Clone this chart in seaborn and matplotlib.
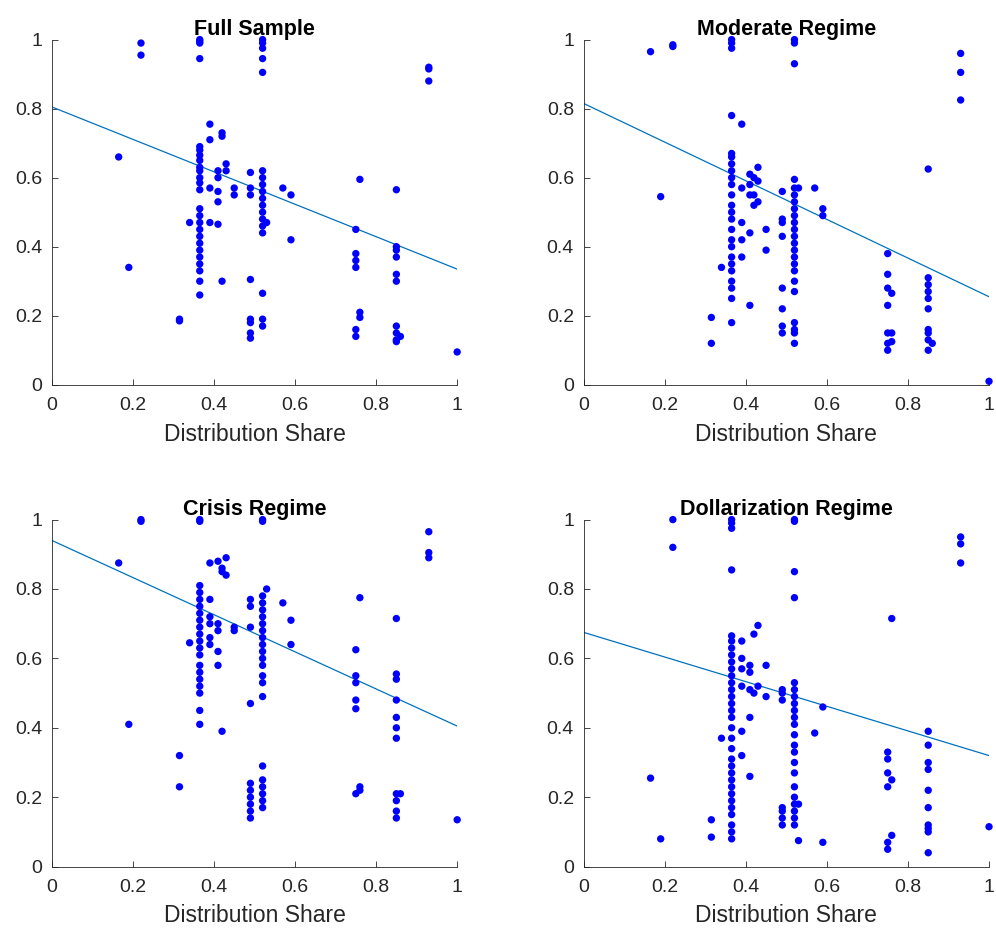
import pandas as pd
import matplotlib
matplotlib.use("Agg")
import matplotlib.pyplot as plt
import seaborn as sns

titles = ["Full Sample", "Moderate Regime", "Crisis Regime", "Dollarization Regime"]

# fitted line: value at x=0 and at x=1
fit_start = [0.805, 0.815, 0.94, 0.675]
fit_end = [0.335, 0.255, 0.405, 0.32]

# points grouped by distribution share column
full_pts = [
    (0.165, [0.66]), (0.19, [0.34]), (0.22, [0.99, 0.955]), (0.315, [0.19, 0.185]), (0.34, [0.47]),
    (0.365, [1.0, 0.995, 0.99, 0.945, 0.69, 0.68, 0.665, 0.65, 0.63, 0.62, 0.60, 0.585, 0.565, 0.51,
             0.49, 0.47, 0.45, 0.43, 0.41, 0.39, 0.37, 0.35, 0.33, 0.30, 0.26]),
    (0.39, [0.755, 0.71, 0.57, 0.47]), (0.41, [0.62, 0.60, 0.56, 0.53, 0.465]),
    (0.42, [0.73, 0.72, 0.30]), (0.43, [0.64, 0.62]), (0.45, [0.57, 0.55]),
    (0.49, [0.615, 0.57, 0.55, 0.305, 0.19, 0.18, 0.15, 0.135]),
    (0.52, [1.0, 0.99, 0.975, 0.945, 0.905, 0.62, 0.60, 0.58, 0.56, 0.54, 0.52, 0.50, 0.48, 0.46,
            0.44, 0.265, 0.19, 0.17]),
    (0.53, [0.47]), (0.57, [0.57]), (0.59, [0.55, 0.42]),
    (0.75, [0.45, 0.38, 0.36, 0.34, 0.16, 0.14]), (0.76, [0.595, 0.21, 0.195]),
    (0.85, [0.565, 0.40, 0.39, 0.37, 0.32, 0.30, 0.17, 0.15, 0.13, 0.125]), (0.86, [0.14]),
    (0.93, [0.92, 0.915, 0.88]), (1.0, [0.095]),
]
moderate_pts = [
    (0.165, [0.965]), (0.19, [0.545]), (0.22, [0.985, 0.98]), (0.315, [0.195, 0.12]), (0.34, [0.34]),
    (0.365, [1.0, 0.99, 0.975, 0.78, 0.67, 0.66, 0.64, 0.62, 0.60, 0.58, 0.55, 0.52, 0.50, 0.48,
             0.45, 0.42, 0.40, 0.37, 0.35, 0.33, 0.30, 0.28, 0.25, 0.18]),
    (0.39, [0.755, 0.57, 0.47, 0.42, 0.37]), (0.41, [0.61, 0.58, 0.55, 0.44, 0.23]),
    (0.42, [0.60, 0.55, 0.52]), (0.43, [0.63, 0.59, 0.53]), (0.45, [0.45, 0.39]),
    (0.49, [0.56, 0.48, 0.47, 0.43, 0.28, 0.22, 0.17, 0.15]),
    (0.52, [1.0, 0.99, 0.93, 0.595, 0.57, 0.55, 0.53, 0.51, 0.49, 0.47, 0.45, 0.43, 0.41, 0.39,
            0.37, 0.35, 0.33, 0.30, 0.27, 0.18, 0.16, 0.15, 0.12]),
    (0.53, [0.57]), (0.57, [0.57]), (0.59, [0.51, 0.49]),
    (0.75, [0.38, 0.32, 0.28, 0.23, 0.15, 0.12, 0.10]), (0.76, [0.265, 0.15, 0.125]),
    (0.85, [0.625, 0.31, 0.29, 0.27, 0.25, 0.22, 0.16, 0.15, 0.13, 0.10]), (0.86, [0.12]),
    (0.93, [0.96, 0.905, 0.825]), (1.0, [0.01]),
]
crisis_pts = [
    (0.165, [0.875]), (0.19, [0.41]), (0.22, [1.0, 0.995]), (0.315, [0.32, 0.23]), (0.34, [0.645]),
    (0.365, [1.0, 0.995, 0.81, 0.79, 0.77, 0.75, 0.73, 0.71, 0.69, 0.67, 0.65, 0.63, 0.61, 0.58,
             0.56, 0.54, 0.52, 0.50, 0.45, 0.41]),
    (0.39, [0.875, 0.77, 0.72, 0.70, 0.66, 0.64]), (0.41, [0.88, 0.70, 0.68, 0.62, 0.58]),
    (0.42, [0.86, 0.85, 0.39]), (0.43, [0.89, 0.84]), (0.45, [0.69, 0.68]),
    (0.49, [0.77, 0.75, 0.69, 0.47, 0.24, 0.22, 0.20, 0.18, 0.16, 0.14]),
    (0.52, [1.0, 0.995, 0.78, 0.76, 0.74, 0.72, 0.70, 0.68, 0.66, 0.64, 0.62, 0.60, 0.58, 0.55,
            0.53, 0.49, 0.29, 0.25, 0.23, 0.21, 0.19, 0.17]),
    (0.53, [0.80]), (0.57, [0.76]), (0.59, [0.71, 0.64]),
    (0.75, [0.625, 0.55, 0.53, 0.48, 0.455, 0.21]), (0.76, [0.775, 0.23, 0.22]),
    (0.85, [0.715, 0.555, 0.54, 0.48, 0.43, 0.40, 0.37, 0.21, 0.19, 0.16, 0.14]), (0.86, [0.21]),
    (0.93, [0.965, 0.905, 0.89]), (1.0, [0.135]),
]
dollar_pts = [
    (0.165, [0.255]), (0.19, [0.08]), (0.22, [1.0, 0.92]), (0.315, [0.135, 0.085]), (0.34, [0.37]),
    (0.365, [1.0, 0.99, 0.975, 0.855, 0.665, 0.65, 0.63, 0.61, 0.59, 0.57, 0.55, 0.53, 0.51, 0.49,
             0.47, 0.45, 0.43, 0.40, 0.37, 0.34, 0.31, 0.29, 0.27, 0.25, 0.23, 0.21, 0.19, 0.17,
             0.15, 0.12, 0.10, 0.08]),
    (0.39, [0.65, 0.60, 0.57, 0.52, 0.39, 0.32]), (0.41, [0.58, 0.56, 0.51, 0.43, 0.26]),
    (0.42, [0.67, 0.50]), (0.43, [0.695, 0.52]), (0.45, [0.58, 0.49]),
    (0.49, [0.51, 0.50, 0.48, 0.17, 0.16, 0.14, 0.12]),
    (0.52, [1.0, 0.995, 0.85, 0.775, 0.53, 0.51, 0.49, 0.47, 0.45, 0.43, 0.41, 0.38, 0.35, 0.33,
            0.30, 0.27, 0.23, 0.20, 0.18, 0.16, 0.14, 0.12]),
    (0.53, [0.18, 0.075]), (0.57, [0.385]), (0.59, [0.46, 0.07]),
    (0.75, [0.33, 0.31, 0.27, 0.23, 0.07, 0.05]), (0.76, [0.715, 0.25, 0.09]),
    (0.85, [0.39, 0.35, 0.30, 0.28, 0.22, 0.17, 0.12, 0.11, 0.10, 0.04]),
    (0.93, [0.95, 0.93, 0.875]), (1.0, [0.115]),
]
panels = [full_pts, moderate_pts, crisis_pts, dollar_pts]

sns.set_style("ticks")
plt.rcParams['font.family'] = ['Liberation Sans', 'DejaVu Sans']

fig = plt.figure(figsize=(9.96, 9.43), dpi=100)
positions = [[0.052, 0.592, 0.407, 0.366], [0.586, 0.592, 0.407, 0.366],
             [0.052, 0.081, 0.407, 0.368], [0.586, 0.081, 0.407, 0.368]]

for i, pts in enumerate(panels):
    ax = fig.add_axes(positions[i])
    df = pd.DataFrame([(x, y) for x, ys in pts for y in ys], columns=["x", "y"])
    sns.scatterplot(data=df, x="x", y="y", ax=ax, color="#0000ff", s=28,
                    edgecolor="none", linewidth=0, zorder=3, clip_on=False)
    ax.plot([0, 1], [fit_start[i], fit_end[i]], color="#0072BD", lw=0.9)
    ax.set_xlim(0, 1)
    ax.set_ylim(0, 1)
    ax.set_xticks([0, 0.2, 0.4, 0.6, 0.8, 1.0])
    ax.set_xticklabels(["0", "0.2", "0.4", "0.6", "0.8", "1"])
    ax.set_yticks([0, 0.2, 0.4, 0.6, 0.8, 1.0])
    ax.set_yticklabels(["0", "0.2", "0.4", "0.6", "0.8", "1"])
    ax.tick_params(direction="in", labelsize=14, length=4, width=0.6, colors="#262626", pad=7)
    ax.tick_params(axis="x", pad=9)
    ax.set_xlabel("Distribution Share", fontsize=16.5, color="#262626", labelpad=6)
    ax.set_ylabel("")
    ax.set_title(titles[i], fontsize=15.5, fontweight="bold", pad=2, color="black")
    sns.despine(ax=ax)
    for s in ["left", "bottom"]:
        ax.spines[s].set_linewidth(0.6)
        ax.spines[s].set_color("#262626")

fig.savefig("out.png", dpi=100)
